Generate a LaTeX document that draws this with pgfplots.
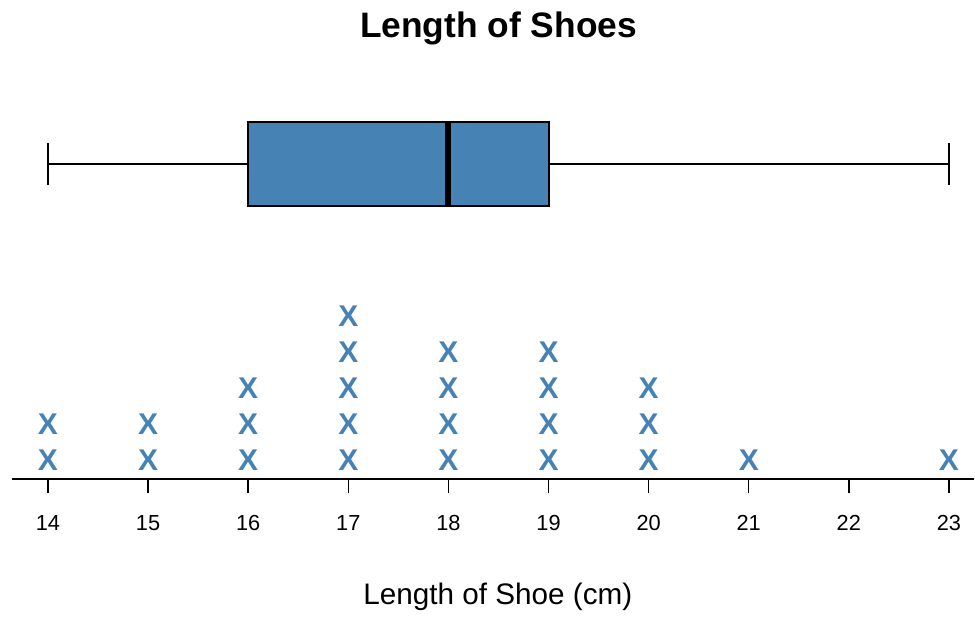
\documentclass[border=0pt]{standalone}
\usepackage{fontspec}
\setmainfont{Liberation Sans}
\usepackage{pgfplots}
\pgfplotsset{compat=1.18}
\usepgfplotslibrary{statistics}
\definecolor{steel}{HTML}{4682B4}
\begin{document}
\begin{tikzpicture}
\begin{axis}[
  scale only axis,
  width=481.5pt, height=210pt,
  xmin=13.641, xmax=23.25,
  ymin=0, ymax=420,
  clip=false,
  hide y axis,
  axis x line=bottom,
  x axis line style={-, line width=1pt},
  xtick={14,15,16,17,18,19,20,21,22,23},
  tick align=outside,
  major tick length=7pt,
  tick style={line width=0.7pt, black},
  /pgf/number format/assume math mode=true,
  xticklabel style={font=\fontsize{10.9}{12}\selectfont, yshift=-7.5pt},
  xlabel={Length of Shoe (cm)},
  xlabel style={font=\fontsize{14.85}{17}\selectfont, at={(axis description cs:0.505,-0.2786)}, anchor=center},
  title={Length of Shoes},
  title style={font=\fontsize{17.7}{20}\selectfont\bfseries, at={(axis description cs:0.5057,1.0833)}, anchor=center, yshift=-7.5pt},
]
\path (axis cs:13.521,-134) rectangle (axis cs:23.25,480);
\addplot[draw=black, line width=0.75pt, fill=steel,
  boxplot prepared={lower whisker=14, lower quartile=16, median=18, upper quartile=19, upper whisker=23, draw position=316, box extend=84, whisker extend=42, draw direction=x, every median/.style={line width=3pt}, every box/.style={line width=1pt, fill=steel}}]
  coordinates {};
\addplot[only marks, color=steel, mark=text, text mark={\textcolor{steel}{\fontsize{15}{15}\selectfont\bfseries X}}]
  coordinates {
  (14,19) (14,55)
  (15,19) (15,55)
  (16,19) (16,55) (16,91)
  (17,19) (17,55) (17,91) (17,127) (17,163)
  (18,19) (18,55) (18,91) (18,127)
  (19,19) (19,55) (19,91) (19,127)
  (20,19) (20,55) (20,91)
  (21,19)
  (23,19)
  };
\end{axis}
\end{tikzpicture}
\end{document}
